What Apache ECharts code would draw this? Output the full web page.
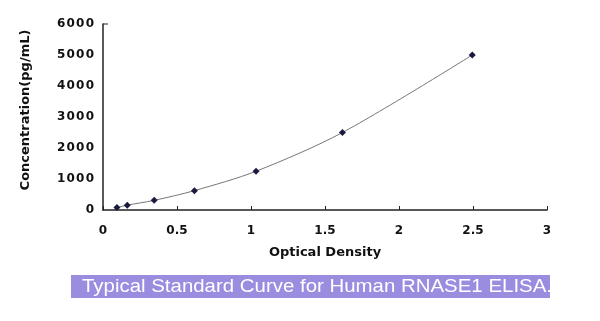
<!DOCTYPE html>
<html><head><meta charset="utf-8">
<script src="https://cdn.jsdelivr.net/npm/echarts@6/dist/echarts.min.js"></script>
<style>html,body{margin:0;padding:0;background:#fff;}#c{width:600px;height:321px;}</style>
</head><body><div id="c"></div>
<script>
const od = [0.094, 0.164, 0.346, 0.618, 1.034, 1.618, 2.495];
const conc = [78, 156, 312, 625, 1250, 2500, 5000];
const xTicks = [0, 0.5, 1, 1.5, 2, 2.5, 3];
const yTicks = [0, 1000, 2000, 3000, 4000, 5000, 6000];
const xTitle = 'Optical Density';
const yTitle = 'Concentration(pg/mL)';
const caption = 'Typical Standard Curve for Human RNASE1 ELISA.';

const chart = echarts.init(document.getElementById('c'), null, {renderer: 'canvas'});
const pts = od.map((v, i) => [v, conc[i]]);
const FF = '"Liberation Sans", Arial, sans-serif';
const FB = '"DejaVu Sans", sans-serif';
chart.setOption({
  animation: false,
  backgroundColor: '#fff',
  grid: {left: 103, right: 53, top: 24, bottom: 111, containLabel: false},
  xAxis: {
    type: 'value', min: xTicks[0], max: xTicks[xTicks.length - 1], interval: 0.5,
    axisLine: {show: true, onZero: false, lineStyle: {color: '#222', width: 1.5}},
    axisTick: {show: true, inside: true, length: 4, lineStyle: {color: '#222'}},
    splitLine: {show: false},
    axisLabel: {margin: 15, fontFamily: FB, fontWeight: 'bold', fontSize: 12, color: '#111'},
    name: xTitle, nameLocation: 'middle', nameGap: 36,
    nameTextStyle: {fontFamily: FB, fontWeight: 'bold', fontSize: 13, color: '#111'}
  },
  yAxis: {
    type: 'value', min: yTicks[0], max: yTicks[yTicks.length - 1], interval: 1000,
    axisLine: {show: true, onZero: false, lineStyle: {color: '#222', width: 1.5}},
    axisTick: {show: false},
    splitLine: {show: false},
    axisLabel: {margin: 9, fontFamily: FB, fontWeight: 'bold', fontSize: 12, color: '#111',
      formatter: v => String(v).split('').join('\u200A')},
    name: ''
  },
  series: [{
    type: 'line', data: pts, smooth: 0.3,
    symbol: 'diamond', symbolSize: 7, showSymbol: true,
    lineStyle: {color: '#777', width: 1},
    itemStyle: {color: '#1a1a40'}
  }],
  graphic: [
    {type: 'text', x: 26, y: 110, rotation: Math.PI / 2,
      style: {text: yTitle, fill: '#111', font: 'bold 13px ' + FB, align: 'center', verticalAlign: 'middle'}},
    {type: 'rect', left: 71, top: 275, shape: {width: 479, height: 23}, style: {fill: '#9a8de0'}},
    {type: 'text', x: 82, y: 277, scaleX: 1.075, style: {text: caption, fill: '#fff', font: '19px ' + FF}},
    {type: 'line', shape: {x1: 103, y1: 24, x2: 108, y2: 24}, style: {stroke: '#222', lineWidth: 1}}
  ]
});
</script></body></html>
